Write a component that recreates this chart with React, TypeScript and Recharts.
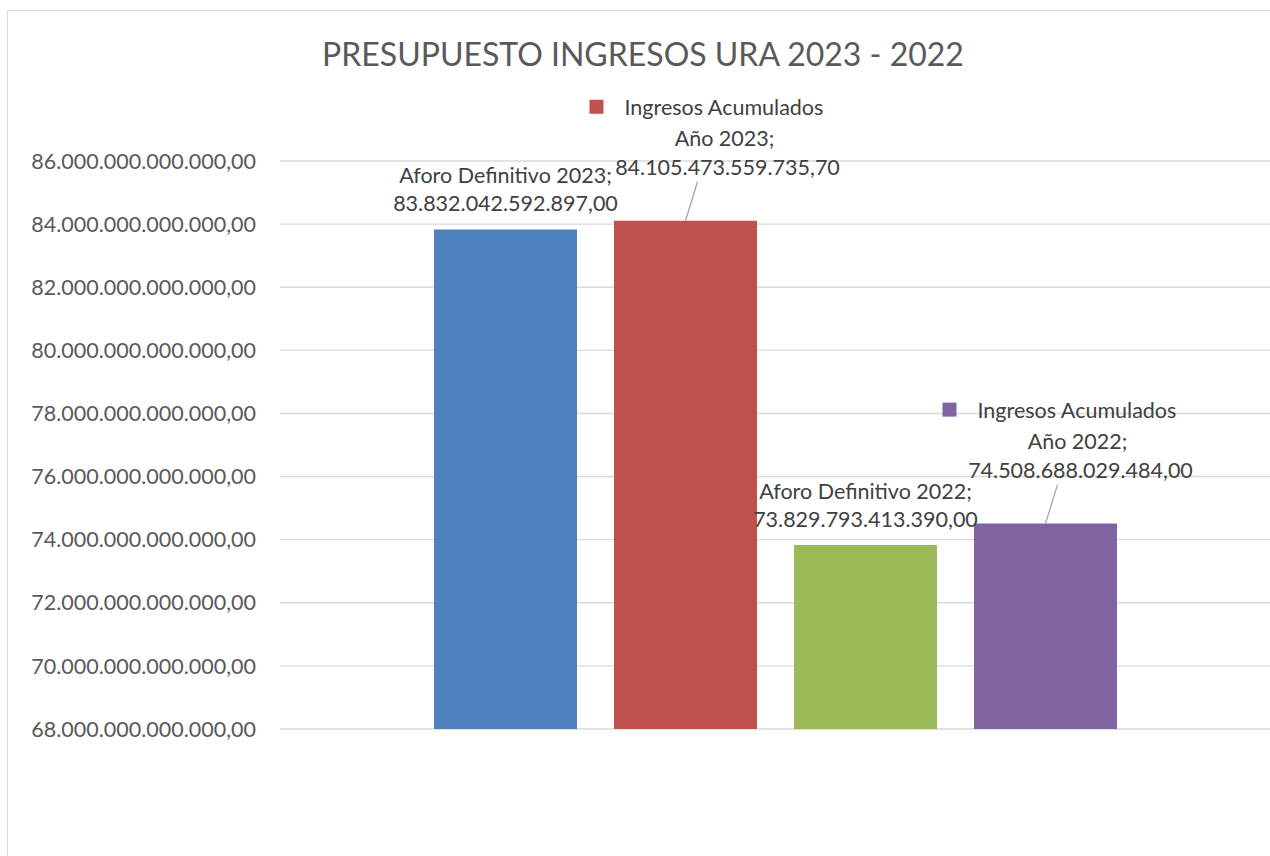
import React from 'react';
import { BarChart, Bar, XAxis, YAxis, CartesianGrid } from 'recharts';

const categories = ['Presupuesto'];
const seriesKeys = ['aforo2023', 'ingresos2023', 'aforo2022', 'ingresos2022'];
const seriesNames = [
  'Aforo Definitivo 2023',
  'Ingresos Acumulados Año 2023',
  'Aforo Definitivo 2022',
  'Ingresos Acumulados Año 2022',
];
const seriesValues = [83832042592897.0, 84105473559735.7, 73829793413390.0, 74508688029484.0];
const seriesColors = ['#4F81BD', '#C0504D', '#9BBB59', '#8064A2'];
const yTicks = [68e12, 70e12, 72e12, 74e12, 76e12, 78e12, 80e12, 82e12, 84e12, 86e12];
const titleText = 'PRESUPUESTO INGRESOS URA 2023 - 2022';

const data = categories.map((c) => {
  const row: any = { name: c };
  seriesKeys.forEach((k, i) => (row[k] = seriesValues[i]));
  return row;
});

const fmt = (v: number) => {
  const s = Number(v).toFixed(2);
  const [i, d] = s.split('.');
  return i.replace(/\B(?=(\d{3})+(?!\d))/g, '.') + ',' + d;
};

const FONT = 'Lato, "Open Sans", sans-serif';
const LABEL_COLOR = '#404040';
const FS = 21.5;

const makeLabel = (idx: number) => (props: any) => {
  const x = Number(props.x);
  const y = Number(props.y);
  const w = Number(props.width);
  const bc = x + w / 2;
  const name = seriesNames[idx];
  const val = fmt(seriesValues[idx]);
  if (name.indexOf(' Año ') < 0) {
    return (
      <g>
        <text x={bc} y={y - 54} textAnchor="middle" dominantBaseline="central" fontSize={FS} fontFamily={FONT} fill={LABEL_COLOR}>
          {name + ';'}
        </text>
        <text x={bc} y={y - 26} textAnchor="middle" dominantBaseline="central" fontSize={FS} fontFamily={FONT} fill={LABEL_COLOR}>
          {val}
        </text>
      </g>
    );
  }
  const [l1, l2] = name.split(' Año ');
  const dx = idx === 1 ? 42 : 35;
  const cx = bc + dx;
  return (
    <g>
      <line x1={bc + 12} y1={y - 39} x2={bc} y2={y} stroke="#a6a6a6" strokeWidth={1.3} />
      <rect x={cx - 138} y={y - 114 - 7} width={14} height={14} fill={seriesColors[idx]} />
      <text x={cx - 103} y={y - 114} textAnchor="start" dominantBaseline="central" fontSize={FS} fontFamily={FONT} fill={LABEL_COLOR}>
        {l1}
      </text>
      <text x={cx - 3} y={y - 83} textAnchor="middle" dominantBaseline="central" fontSize={FS} fontFamily={FONT} fill={LABEL_COLOR}>
        {'Año ' + l2 + ';'}
      </text>
      <text x={cx} y={y - 54} textAnchor="middle" dominantBaseline="central" fontSize={FS} fontFamily={FONT} fill={LABEL_COLOR}>
        {val}
      </text>
    </g>
  );
};

export default function App() {
  return (
    <div style={{ position: 'absolute', left: 0, top: 0, width: 1270, height: 856, overflow: 'hidden', background: '#fff' }}>
      <div style={{ position: 'absolute', left: 7, top: 10, width: 1300, height: 900, border: '1px solid #d9d9d9', boxSizing: 'border-box' }} />
      <div
        style={{
          position: 'absolute',
          left: 0,
          top: 34,
          width: 1286,
          textAlign: 'center',
          fontFamily: FONT,
          fontSize: 32,
          color: '#595959',
          lineHeight: '40px',
        }}
      >
        {titleText}
      </div>
      <div style={{ position: 'absolute', left: 0, top: 0 }}>
        <BarChart
          width={1270}
          height={856}
          data={data}
          margin={{ top: 161, right: 0, bottom: 127, left: 0 }}
          barCategoryGap={154}
          barGap={37}
        >
          <CartesianGrid horizontal vertical={false} stroke="#d9d9d9" strokeWidth={1.4} />
          <XAxis dataKey="name" hide />
          <YAxis
            width={280}
            domain={[68e12, 86e12]}
            ticks={yTicks}
            interval={0}
            axisLine={false}
            tickLine={false}
            tickSize={0}
            tickMargin={24}
            tickFormatter={fmt}
            tick={{ fill: '#595959', fontSize: FS, fontFamily: FONT }}
          />
          {seriesKeys.map((k, i) => (
            <Bar key={k} dataKey={k} name={seriesNames[i]} fill={seriesColors[i]} isAnimationActive={false} label={makeLabel(i)} />
          ))}
        </BarChart>
      </div>
    </div>
  );
}
